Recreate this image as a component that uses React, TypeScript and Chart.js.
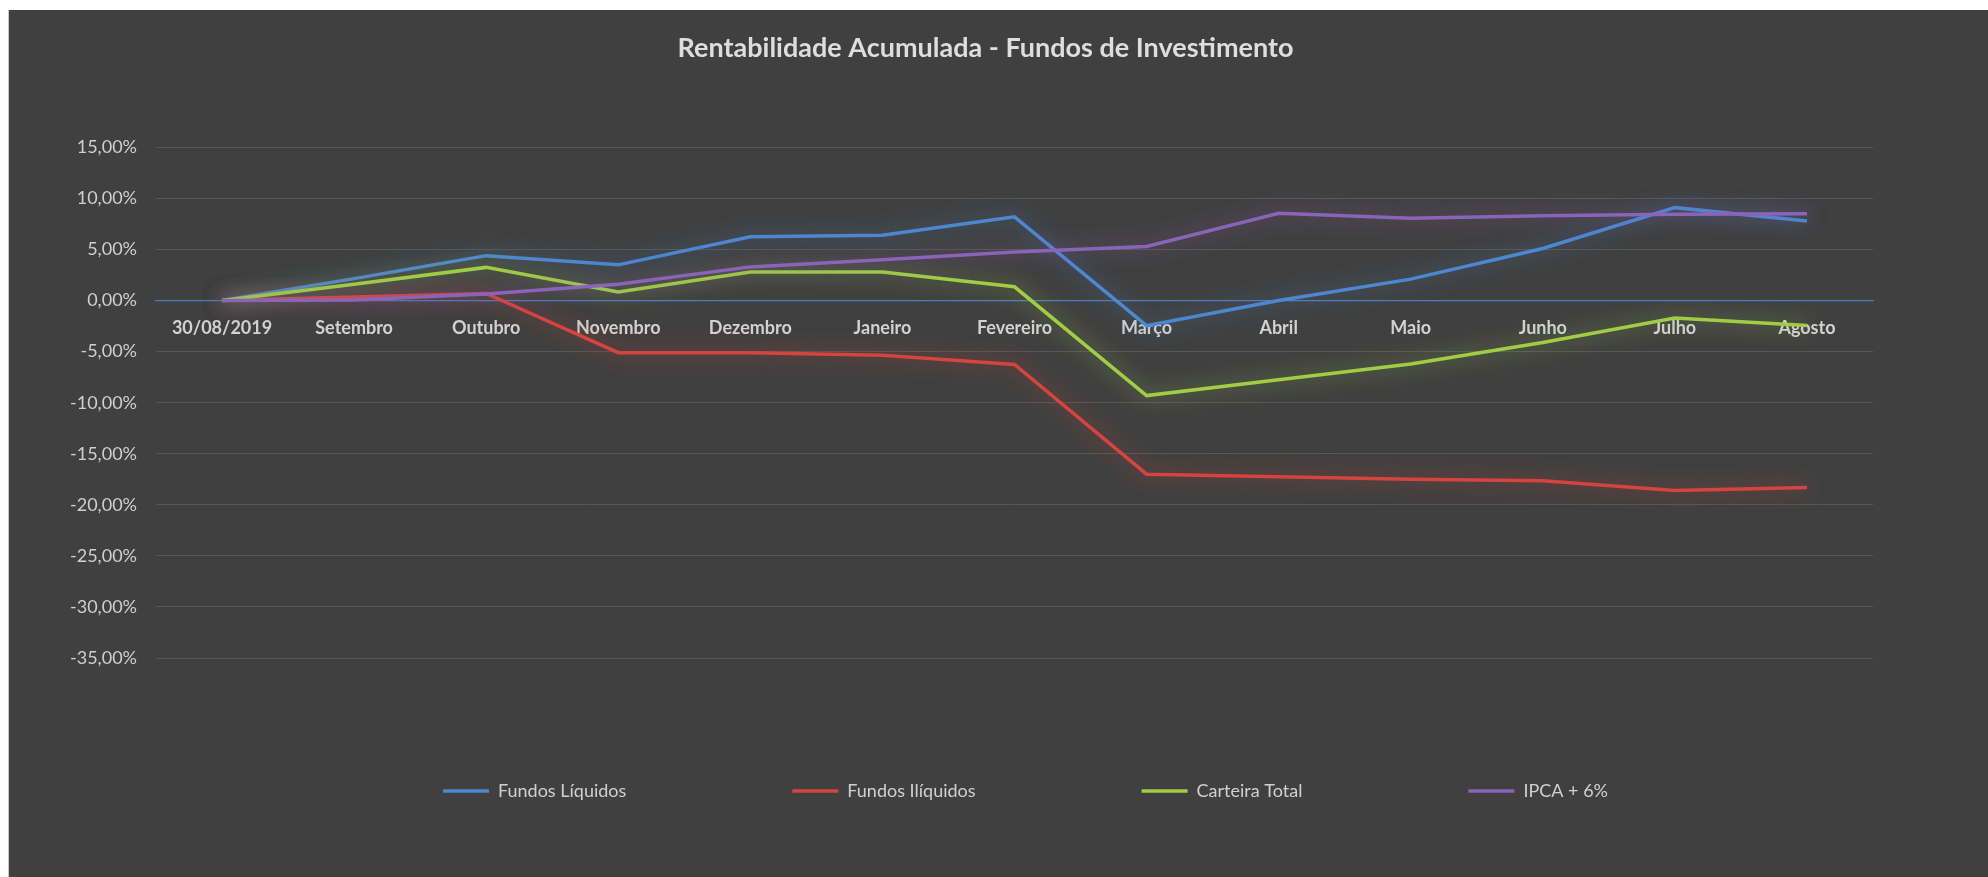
import React, { useEffect, useRef } from 'react';
import { Chart, registerables } from 'chart.js';

Chart.register(...registerables);

const categories = [
  '30/08/2019', 'Setembro', 'Outubro', 'Novembro', 'Dezembro', 'Janeiro',
  'Fevereiro', 'Março', 'Abril', 'Maio', 'Junho', 'Julho', 'Agosto',
];

// values in %
const fundosLiquidos = [0, 2.15, 4.4, 3.5, 6.25, 6.4, 8.2, -2.45, 0.0, 2.1, 5.1, 9.1, 7.8];
const fundosIliquidos = [0, 0.35, 0.7, -5.1, -5.1, -5.35, -6.25, -17.0, -17.25, -17.5, -17.65, -18.6, -18.3];
const carteiraTotal = [0, 1.6, 3.25, 0.85, 2.8, 2.8, 1.35, -9.3, -7.75, -6.2, -4.1, -1.7, -2.45];
const ipcaMais6 = [0, 0.05, 0.65, 1.6, 3.3, 4.0, 4.75, 5.3, 8.55, 8.05, 8.3, 8.45, 8.5];

const seriesNames = ['Fundos Líquidos', 'Fundos Ilíquidos', 'Carteira Total', 'IPCA + 6%'];
const seriesColors = ['#4D87CF', '#D5443F', '#A0CD45', '#8B63B8'];
const glowColors = ['rgba(77,135,207,0.7)', 'rgba(213,68,63,0.7)', 'rgba(160,205,69,0.7)', 'rgba(139,99,184,0.7)'];

const yMin = -35;
const yMax = 15;
const yStep = 5;

const titleText = 'Rentabilidade Acumulada - Fundos de Investimento';
const FONT = 'Lato, "Open Sans", "DejaVu Sans", sans-serif';

const bgPlugin = {
  id: 'bgFill',
  beforeDraw(chart: any) {
    const { ctx, width, height } = chart;
    ctx.save();
    ctx.fillStyle = '#404040';
    ctx.fillRect(0, 0, width, height);
    ctx.restore();
  },
};

const glowPlugin = {
  id: 'glow',
  beforeDatasetDraw(chart: any, args: any) {
    const ctx = chart.ctx;
    ctx.save();
    ctx.shadowColor = glowColors[args.index] || 'rgba(0,0,0,0)';
    ctx.shadowBlur = 20;
  },
  afterDatasetDraw(chart: any) {
    chart.ctx.restore();
  },
};

const boxPlace = {
  id: 'boxPlace',
  afterLayout(chart: any) {
    const lg = chart.legend;
    if (lg) {
      const dy = -42;
      const dx = 56;
      lg.top += dy;
      lg.bottom += dy;
      lg.left += dx;
      lg.right += dx;
    }
    const tb = chart.titleBlock;
    if (tb) {
      tb.left += 16;
      tb.right += 16;
    }
  },
};

export default function App() {
  const canvasRef = useRef<HTMLCanvasElement | null>(null);

  useEffect(() => {
    if (!canvasRef.current) return;
    const allSeries = [fundosLiquidos, fundosIliquidos, carteiraTotal, ipcaMais6];
    const chart = new Chart(canvasRef.current, {
      type: 'line',
      data: {
        labels: categories,
        datasets: allSeries.map((d, i) => ({
          label: seriesNames[i],
          data: d,
          borderColor: seriesColors[i],
          backgroundColor: seriesColors[i],
          borderWidth: 3.5,
          pointRadius: 0,
          pointHoverRadius: 0,
          tension: 0,
          fill: false,
          order: 4 - i,
        })),
      },
      plugins: [bgPlugin, glowPlugin, boxPlace],
      options: {
        animation: false,
        responsive: true,
        maintainAspectRatio: false,
        layout: { padding: { left: 57, right: 115, top: 0, bottom: 25 } },
        plugins: {
          tooltip: { enabled: false },
          title: {
            display: true,
            text: titleText,
            color: '#dedede',
            font: { family: FONT, size: 27, weight: 'bold' },
            padding: { top: 22, bottom: 83 },
          },
          legend: {
            position: 'bottom',
            labels: {
              usePointStyle: true,
              pointStyle: 'line',
              pointStyleWidth: 46,
              padding: 166,
              color: '#d0d0d0',
              font: { family: FONT, size: 18 },
              sort: (a: any, b: any) => a.datasetIndex - b.datasetIndex,
            },
          },
        },
        scales: {
          x: {
            type: 'category',
            offset: true,
            position: { y: 0 } as any,
            grid: { display: false },
            border: { display: true, color: '#4a7ebb', width: 1.2 },
            ticks: {
              color: '#d2d2d2',
              font: { family: FONT, size: 18, weight: 'bold' },
              padding: 9,
              maxRotation: 0,
              autoSkip: false,
            },
          },
          y: {
            min: yMin,
            max: yMax,
            afterFit(scale: any) {
              scale.width = 90;
            },
            border: { display: false },
            grid: {
              drawTicks: false,
              color: (ctx: any) => (ctx.tick && ctx.tick.value === 0 ? 'rgba(0,0,0,0)' : '#575757'),
              lineWidth: 1,
            },
            ticks: {
              stepSize: yStep,
              padding: 19,
              color: '#cfcfcf',
              font: { family: FONT, size: 18 },
              callback: (v: any) => {
                const n = Math.round(Number(v) * 100) / 100;
                return n.toFixed(2).replace('.', ',') + '%';
              },
            },
          },
        },
      },
    });
    return () => chart.destroy();
  }, []);

  return (
    <div
      style={{
        position: 'absolute',
        left: 8,
        top: 10,
        width: 1980,
        height: 867,
        borderLeft: '1px solid #c8c8c8',
        boxSizing: 'border-box',
      }}
    >
      <canvas ref={canvasRef} />
    </div>
  );
}
